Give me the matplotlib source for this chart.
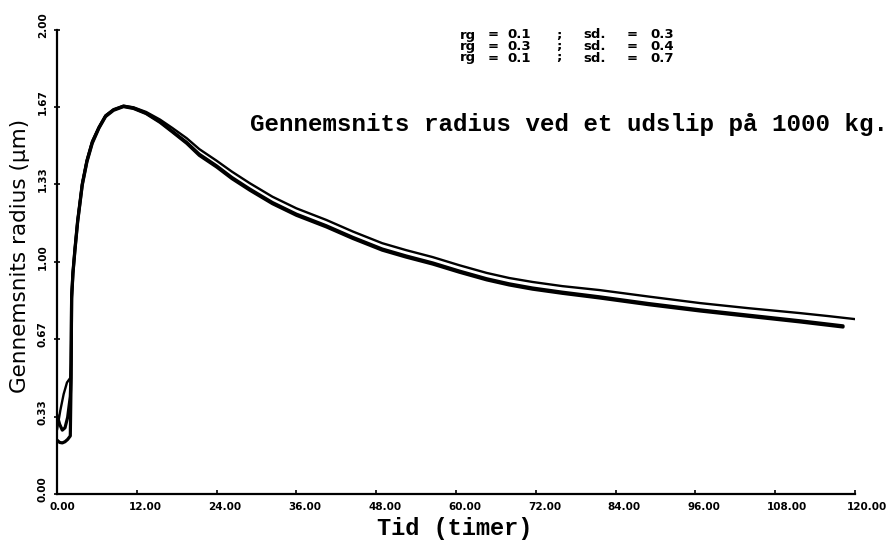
import matplotlib
matplotlib.use("Agg")
import matplotlib.pyplot as plt
from matplotlib.transforms import ScaledTranslation

# Mean particle radius (µm) versus time (hours) for three size distributions
t_upper = [0, 0.5, 1.0, 1.5, 2.0, 2.1, 2.2, 2.4, 2.7, 3.1, 3.8, 4.5, 5.3, 6.3,
           7.3, 8.5, 10.0, 11.5, 13.4, 15.5, 17.3, 19.5, 21.4, 24.0, 26.3, 29.0,
           32.4, 36.0, 40.5, 44.5, 48.9, 52.5, 56.5, 60.5, 64.6, 68.0, 71.5,
           76.0, 81.6, 89.0, 96.7, 104.0, 111.7, 116.0, 120.0]
r_upper = [0.276, 0.36, 0.43, 0.48, 0.50, 0.56, 0.86, 0.96, 1.06, 1.18, 1.34,
           1.44, 1.52, 1.58, 1.63, 1.655, 1.672, 1.665, 1.645, 1.612, 1.577,
           1.532, 1.485, 1.435, 1.388, 1.338, 1.280, 1.230, 1.180, 1.130, 1.080,
           1.050, 1.020, 0.985, 0.952, 0.930, 0.913, 0.895, 0.878, 0.850, 0.822,
           0.800, 0.779, 0.766, 0.753]

t_lower = [0, 0.4, 0.8, 1.2, 1.6, 2.0, 2.1, 2.2, 2.4, 2.7, 3.1, 3.8, 4.5, 5.3,
           6.3, 7.3, 8.5, 10.0, 11.5, 13.4, 15.5, 17.3, 19.5, 21.4, 24.0, 26.3,
           29.0, 32.4, 36.0, 40.5, 44.5, 48.9, 52.5, 56.5, 60.5, 64.6, 68.0,
           71.5, 76.0, 81.6, 89.0, 96.7, 104.0, 111.7, 118.2]
r_lower_a = [0.232, 0.222, 0.220, 0.225, 0.235, 0.250, 0.45, 0.84, 0.95, 1.05,
             1.17, 1.33, 1.43, 1.51, 1.575, 1.625, 1.652, 1.668, 1.660, 1.638,
             1.600, 1.560, 1.510, 1.458, 1.408, 1.358, 1.308, 1.250, 1.200,
             1.150, 1.100, 1.050, 1.020, 0.990, 0.955, 0.922, 0.900, 0.882,
             0.864, 0.844, 0.815, 0.788, 0.765, 0.741, 0.719]
r_lower_b = [0.340, 0.300, 0.275, 0.285, 0.330, 0.420, 0.50, 0.85, 0.955, 1.055,
             1.175, 1.335, 1.435, 1.515, 1.578, 1.628, 1.655, 1.670, 1.662,
             1.640, 1.603, 1.563, 1.514, 1.463, 1.413, 1.363, 1.313, 1.255,
             1.205, 1.155, 1.105, 1.055, 1.025, 0.995, 0.960, 0.927, 0.905,
             0.887, 0.869, 0.849, 0.820, 0.793, 0.770, 0.746, 0.724]

rg_values = ["0.1", "0.3", "0.1"]
sd_values = ["0.3", "0.4", "0.7"]

x_ticks = [0, 12, 24, 36, 48, 60, 72, 84, 96, 108, 120]
x_tick_labels = ["0.00", "12.00", "24.00", "36.00", "48.00", "60.00", "72.00",
                 "84.00", "96.00", "108.00", "120.00"]
y_ticks = [0, 1 / 3, 2 / 3, 1, 4 / 3, 5 / 3, 2]
y_tick_labels = ["0.00", "0.33", "0.67", "1.00", "1.33", "1.67", "2.00"]

W, H = 888, 540
fig = plt.figure(figsize=(W / 100, H / 100), dpi=100)
left, right, bottom, top = 57, 855, 494, 29.5
ax = fig.add_axes([left / W, 1 - bottom / H, (right - left) / W, (bottom - top) / H])

ax.plot(t_lower, r_lower_a, color="black", lw=2.3, solid_capstyle="round")
ax.plot(t_lower, r_lower_b, color="black", lw=2.3, solid_capstyle="round")
ax.plot(t_upper, r_upper, color="black", lw=1.7, solid_capstyle="round")

ax.set_xlim(0, 120)
ax.set_ylim(0, 2)
for s in ("top", "right"):
    ax.spines[s].set_visible(False)
for s in ("left", "bottom"):
    ax.spines[s].set_linewidth(1.6)

tick_font = dict(family="DejaVu Sans", weight="bold", size=7.5)
ax.set_xticks(x_ticks)
ax.set_xticklabels(x_tick_labels, ha="left", **tick_font)
ax.set_yticks(y_ticks)
ax.set_yticklabels(y_tick_labels, rotation=90, va="bottom", ha="right", **tick_font)
ax.tick_params(axis="x", direction="in", length=3, width=1.2, pad=6)
ax.tick_params(axis="y", direction="inout", length=5, width=1.2, pad=4)

shift_x = ScaledTranslation(-8 / 100, 0, fig.dpi_scale_trans)
for lab in ax.get_xticklabels():
    lab.set_transform(lab.get_transform() + shift_x)
shift_y = ScaledTranslation(0, -8 / 100, fig.dpi_scale_trans)
for lab in ax.get_yticklabels():
    lab.set_transform(lab.get_transform() + shift_y)

mono = dict(family="Liberation Mono", weight="bold")
fig.text(250 / W, 1 - 125 / H, "Gennemsnits radius ved et udslip på 1000 kg.",
         ha="left", va="center", size=17.4, **mono)
fig.text(455 / W, 1 - 528 / H, "Tid (timer)", ha="center", va="center",
         size=17, **mono)
fig.text(20 / W, 1 - 256 / H, "Gennemsnits radius (µm)", rotation=90,
         ha="center", va="center", size=15.5, family="DejaVu Sans")

leg_font = dict(family="DejaVu Sans", weight="bold", size=9.5)
for i, (rg, sd) in enumerate(zip(rg_values, sd_values)):
    y = 1 - (35 + 11.5 * i) / H
    for x, txt in ((460, "rg"), (488, "="), (507, rg), (556, ";"),
                   (583, "sd."), (627, "="), (650, sd)):
        fig.text(x / W, y, txt, ha="left", va="center", **leg_font)

fig.savefig("out.png", dpi=100)
